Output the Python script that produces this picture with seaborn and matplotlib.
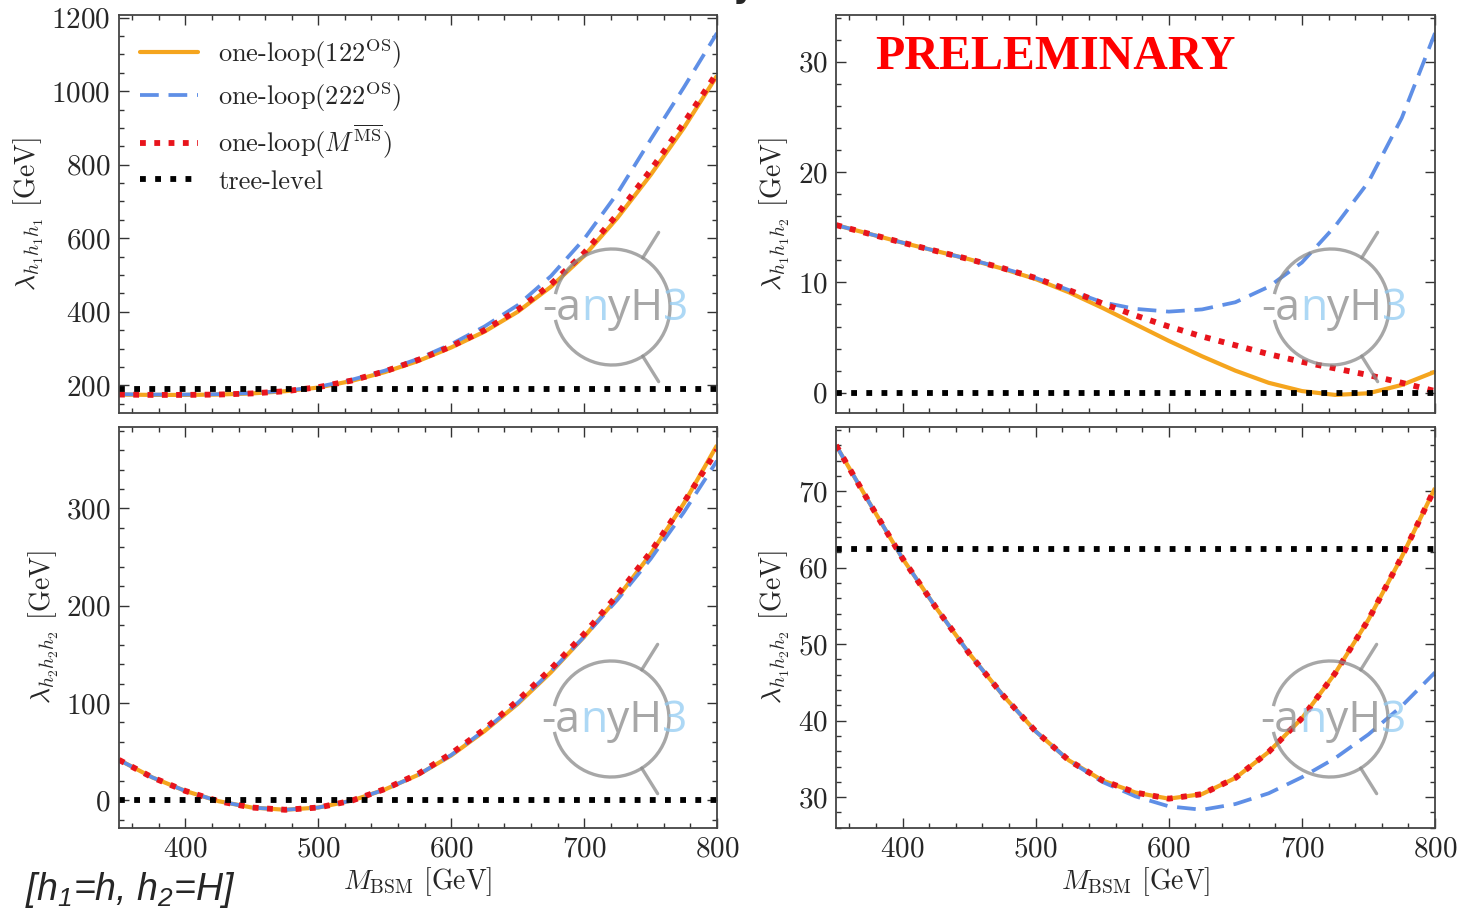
import numpy as np
import pandas as pd
import matplotlib
matplotlib.use("Agg")
import matplotlib.pyplot as plt
import seaborn as sns
from matplotlib.patches import Arc
from matplotlib.lines import Line2D
from matplotlib.ticker import MultipleLocator

# ---------------- data ----------------
M_BSM = [350, 375, 400, 425, 450, 475, 500, 525, 550, 575,
         600, 625, 650, 675, 700, 725, 750, 775, 800]

# lambda_{h1 h1 h1}
l111_122 = [175, 174, 174, 175, 178, 184, 194, 212, 236, 266,
            303, 346, 400, 468, 552, 655, 772, 900, 1042]
l111_222 = [176, 175, 175, 176, 179, 185, 196, 215, 240, 272,
            312, 360, 418, 497, 598, 722, 868, 1010, 1158]
l111_ms = [175, 174, 174, 175, 178, 184, 195, 213, 238, 269,
           306, 350, 405, 475, 560, 665, 785, 913, 1050]

# lambda_{h1 h1 h2}
l112_122 = [15.2, 14.4, 13.6, 12.85, 12.1, 11.25, 10.3, 9.1, 7.7, 6.2,
            4.7, 3.3, 2.0, 0.9, 0.15, -0.2, -0.05, 0.7, 1.9]
l112_222 = [15.2, 14.4, 13.6, 12.85, 12.1, 11.3, 10.4, 9.3, 8.2, 7.6,
            7.35, 7.55, 8.2, 9.6, 11.8, 15.1, 19.1, 24.9, 32.6]
l112_ms = [15.2, 14.4, 13.6, 12.85, 12.1, 11.3, 10.4, 9.3, 8.1, 7.0,
           6.0, 5.1, 4.3, 3.5, 2.8, 2.2, 1.6, 0.9, 0.15]

# lambda_{h2 h2 h2}
l222_122 = [41.5, 23.5, 9.5, -1.0, -7.5, -9.8, -7.5, -0.5, 11, 26,
            46, 71, 99, 131.5, 168, 208, 253, 305, 365]
l222_222 = [41.5, 23.5, 9.5, -1.0, -7.5, -9.8, -7.5, -0.5, 11, 26,
            46.5, 72, 100, 132.5, 168, 206, 248, 296, 349]
l222_ms = [41.5, 23.5, 9.5, -1.0, -7.5, -9.8, -7.5, -0.5, 11.5, 27,
           48, 73, 102.5, 135, 171, 211, 255, 306, 360]

# lambda_{h1 h2 h2}
l122_122 = [76, 68.5, 61.2, 54.8, 48.8, 43.4, 38.6, 34.8, 32.2, 30.6,
            29.8, 30.4, 32.5, 35.9, 40.3, 46.2, 53.2, 61.4, 70.4]
l122_222 = [76, 68.5, 61.2, 54.8, 48.8, 43.4, 38.6, 34.8, 32.0, 30.1,
            28.8, 28.35, 29.1, 30.5, 32.6, 35.1, 38.2, 41.9, 46.3]
l122_ms = [76, 68.5, 61.2, 54.8, 48.8, 43.4, 38.6, 34.8, 32.2, 30.6,
           29.8, 30.4, 32.5, 35.9, 40.3, 46.2, 53.2, 61.4, 70.4]

# tree-level values (constant) per panel: h1h1h1, h1h1h2, h2h2h2, h1h2h2
tree_level = [189, 0.0, 0.0, 62.5]

series_labels = [r"one-loop(122$^{\mathrm{OS}}$)",
                 r"one-loop(222$^{\mathrm{OS}}$)",
                 r"one-loop($M^{\overline{\mathrm{MS}}}$)",
                 "tree-level"]
ylabels = [r"$\lambda_{h_1h_1h_1}$ [GeV]", r"$\lambda_{h_1h_1h_2}$ [GeV]",
           r"$\lambda_{h_2h_2h_2}$ [GeV]", r"$\lambda_{h_1h_2h_2}$ [GeV]"]
xlabel = r"$M_{\mathrm{BSM}}$ [GeV]"

# ---------------- style ----------------
sns.set_theme(style="ticks")
plt.rcParams["font.family"] = ["cmr10", "DejaVu Serif"]
plt.rcParams["mathtext.fontset"] = "cm"
plt.rcParams["mathtext.rm"] = "Liberation Sans:italic"
plt.rcParams["axes.formatter.use_mathtext"] = True

C_OR = "#F5A51E"
C_BL = "#5F8FE6"
C_RD = "#E8141C"
C_BK = "#000000"

LS_BL = (0, (5.0, 2.6))
LS_RD = (0, (1.0, 1.45))
LS_BK = (0, (1.0, 1.6))

W, H = 1460, 914
fig = plt.figure(figsize=(W / 100, H / 100), dpi=100)

def fx(x):
    return x / W

def fy(y):
    return 1 - y / H

L1, R1, L2, R2 = 119, 717, 836, 1435
T1, B1, T2, B2 = 15, 413, 427, 828
pos = [(L1, T1, R1, B1), (L2, T1, R2, B1), (L1, T2, R1, B2), (L2, T2, R2, B2)]
axes = []
for (l, t, r, b) in pos:
    axes.append(fig.add_axes([fx(l), fy(b), (r - l) / W, (b - t) / H]))

panels = [(l111_122, l111_222, l111_ms),
          (l112_122, l112_222, l112_ms),
          (l222_122, l222_222, l222_ms),
          (l122_122, l122_222, l122_ms)]
minor_y = [50, 2, 20, 2]
major_y = [200, 10, 100, 10]

for i, ax in enumerate(axes):
    s122, s222, sms = panels[i]
    sns.lineplot(x=M_BSM, y=s122, ax=ax, color=C_OR, lw=3.0)
    ax.lines[-1].set_solid_capstyle("butt")
    sns.lineplot(x=M_BSM, y=s222, ax=ax, color=C_BL, lw=2.7)
    ax.lines[-1].set_linestyle(LS_BL)
    sns.lineplot(x=M_BSM, y=sms, ax=ax, color=C_RD, lw=4.2)
    ax.lines[-1].set_linestyle(LS_RD)
    ax.axhline(tree_level[i], color=C_BK, lw=4.2, linestyle=LS_BK)
    ax.set_xlim(350, 800)
    ax.margins(y=0.05)
    ax.xaxis.set_major_locator(MultipleLocator(100))
    ax.xaxis.set_minor_locator(MultipleLocator(20))
    ax.yaxis.set_major_locator(MultipleLocator(major_y[i]))
    ax.yaxis.set_minor_locator(MultipleLocator(minor_y[i]))
    ax.tick_params(which="both", direction="in", top=True, right=True,
                   color="#333333", width=1.0)
    ax.tick_params(which="major", length=7, labelsize=21, pad=6)
    ax.tick_params(which="minor", length=3.5)
    for sp in ax.spines.values():
        sp.set_color("#444444")
        sp.set_linewidth(1.3)
    ax.set_ylabel(ylabels[i], fontsize=20, labelpad=4)
    if i < 2:
        ax.tick_params(labelbottom=False)
        ax.set_xlabel("")
    else:
        ax.set_xlabel(xlabel, fontsize=20, labelpad=2)

# legend
handles = [Line2D([], [], color=C_OR, lw=3.0),
           Line2D([], [], color=C_BL, lw=2.7, linestyle=LS_BL),
           Line2D([], [], color=C_RD, lw=4.2, linestyle=LS_RD),
           Line2D([], [], color=C_BK, lw=4.2, linestyle=LS_BK)]
axes[0].legend(handles, series_labels, loc="upper left", bbox_to_anchor=(0, 1),
               frameon=False, fontsize=19, handlelength=2.2, handletextpad=0.75,
               labelspacing=0.33, borderaxespad=0.5, borderpad=0.3)

# PRELEMINARY stamp
axes[1].text(0.065, 0.894, "PRELEMINARY", transform=axes[1].transAxes,
             ha="left", va="center", color="#FF0000", fontsize=34.5,
             fontweight="bold", family="Liberation Serif")

# anyH3 watermark
renderer = fig.canvas.get_renderer()
GR = "#8a8a8a"
LB = "#92CBF2"

def draw_logo(ax, cx, cy):
    r = 58
    arc = Arc((fx(cx), fy(cy)), 2 * r / W, 2 * r / H, theta1=-160, theta2=160,
              transform=fig.transFigure, color=GR, lw=2.4, alpha=0.75)
    fig.add_artist(arc)
    for ang in (58, -58):
        a = np.deg2rad(ang)
        x0, y0 = cx + r * np.cos(a), cy - r * np.sin(a)
        x1, y1 = cx + (r + 30) * np.cos(a), cy - (r + 30) * np.sin(a)
        fig.add_artist(Line2D([fx(x0), fx(x1)], [fy(y0), fy(y1)],
                              transform=fig.transFigure, color=GR, lw=2.4, alpha=0.75))
    x = cx - 70
    for s, c in (("-a", GR), ("n", LB), ("yH", GR), ("3", LB)):
        t = fig.text(fx(x), fy(cy + 2), s, color=c, fontsize=32, family="Open Sans",
                     ha="left", va="center", alpha=0.75)
        ext = t.get_window_extent(renderer)
        x += ext.width

draw_logo(axes[0], 612, 307)
draw_logo(axes[1], 1331, 307)
draw_logo(axes[2], 611, 719)
draw_logo(axes[3], 1330, 719)

# notes
fig.text(fx(25), fy(890), r"[h$_1$=h, h$_2$=H]", fontsize=27, family="Liberation Sans",
         fontstyle="italic", math_fontfamily="custom", ha="left", va="center")
fig.text(fx(733), 1 + 3 / H, "y", fontsize=24, family="DejaVu Sans",
         fontweight="bold", ha="left", va="baseline")

fig.savefig("out.png", dpi=100)
